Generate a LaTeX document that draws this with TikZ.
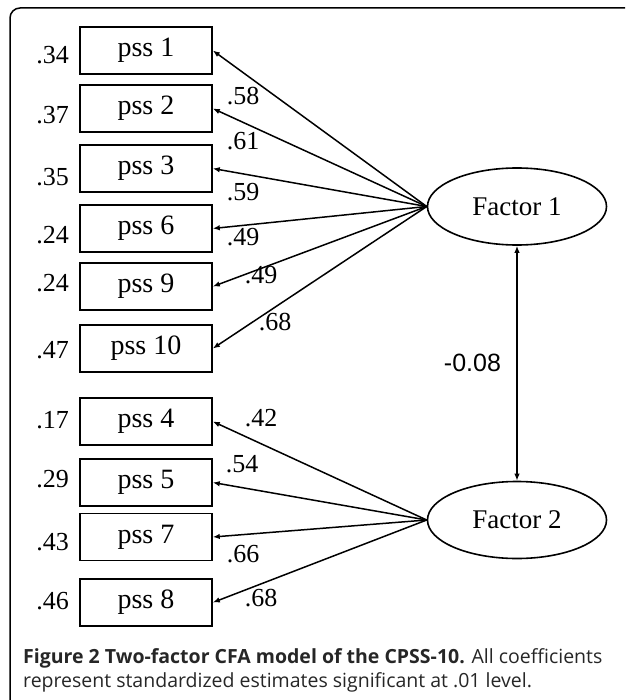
\documentclass[tikz,border=0pt]{standalone}
\usepackage{fontspec}
\setmainfont{Liberation Serif}
\newfontfamily\captionfont{Open Sans}
\newfontfamily\covfont{Liberation Sans}
\usetikzlibrary{arrows.meta}
\usetikzlibrary{shapes.geometric}

\begin{document}
\begin{tikzpicture}
    [%
        x=1pt,y=-1pt,%
        indicator/.style={%
            draw,%
            line width=1.6pt,%
            minimum width=132pt,%
            minimum height=47pt,%
            inner sep=0pt,%
            font=\fontsize{28}{30}\selectfont%
        },%
        factor/.style={%
            draw,%
            ellipse,%
            line width=1.6pt,%
            minimum width=179pt,%
            minimum height=77pt,%
            inner sep=0pt,%
            font=\fontsize{27}{30}\selectfont%
        },%
        estimate/.style={%
            inner sep=0pt,%
            font=\fontsize{26}{30}\selectfont%
        },%
        loading/.style={%
            line width=1.5pt,%
            -{Latex[length=7pt,width=5.5pt]}%
        }%
    ]%
%
    \useasboundingbox (0,0) rectangle (625,700);
    \clip (0,0) rectangle (625,700);
    % frame of the figure
    \draw[line width=1.5pt,rounded corners=10pt] (10,8) rectangle (660,740);
%
    \node[factor] (factor-1) at (517,206.5) {Factor 1};
    \node[factor] (factor-2) at (517,520) {Factor 2};
%
    % draw the indicators, their error variances and loadings
    % \factorno factor the indicators load on
    % \Items indicator/y/error/error y/loading/loading x/loading y
    \foreach \factorno/\Items in {%
        1/{%
            1/50.5/.34/55/.58/243/96,%
            2/108.5/.37/115/.61/243/141,%
            3/168.5/.35/177/.59/243/192,%
            6/228.5/.24/235/.49/243/237,%
            9/286.5/.24/283/.49/261/275,%
            10/348.5/.47/350/.68/275/322%
        },%
        2/{%
            4/421.5/.17/420/.42/261/418,%
            5/482.5/.29/479/.54/242/464,%
            7/537/.43/542/.66/243/554,%
            8/602.5/.46/601/.68/261/598%
        }%
    }{
        \foreach \item/\y/\err/\ey/\coef/\lx/\ly in \Items {
% place the indicator
            \node[indicator] (pss-\item) at (146,\y) {pss \item};
% its error variance
            \node[estimate,anchor=east] (err-\item) at (69,\ey) {\err};
% loading from the factor
            \draw[loading] (factor-\factorno.west) -- (pss-\item.east);
            \node[estimate] (coef-\item) at (\lx,\ly) {\coef};
        } % \foreach \item
    } % \foreach \factorno/\Items
%
    % correlation of the factors
    \draw[line width=1.5pt,{Latex[length=7pt,width=5.5pt]}-{Latex[length=7pt,width=5.5pt]}]
        (factor-1) -- (factor-2)
        node[midway,left=12pt,font=\covfont\fontsize{25}{30}\selectfont] (cov) {-0.08};
%
    \node[anchor=north west,align=left,inner sep=0pt,text=black!85,%
        font=\captionfont\fontsize{19.5}{24}\selectfont] (caption) at (23,648)
        {\textbf{Figure 2 Two-factor CFA model of the CPSS-10.} All coefficients\\
         represent standardized estimates significant at .01 level.};
\end{tikzpicture}
\end{document}
